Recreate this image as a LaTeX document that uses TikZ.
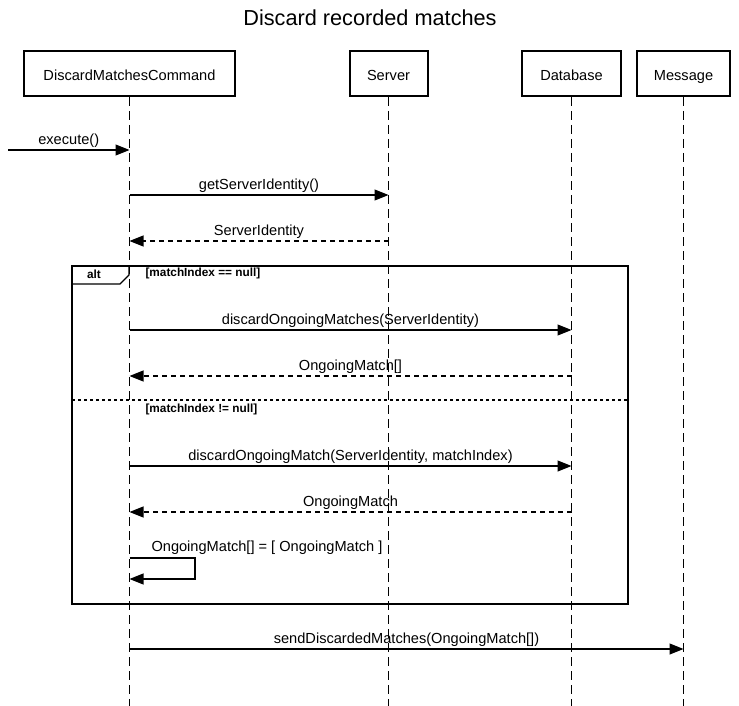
\documentclass[tikz,border=0pt]{standalone}
\usepackage{fontspec}
\setmainfont{Liberation Sans}
\usetikzlibrary{arrows.meta}
\begin{document}
\begin{tikzpicture}[x=1pt,y=-1pt,
    every node/.style={font=\fontsize{14.6}{17}\selectfont},
    head/.style={draw,line width=2pt,minimum height=45pt,inner sep=0pt,text height=16.5pt,text depth=3pt},
    life/.style={line width=1.2pt,dash pattern=on 9pt off 5pt},
    msg/.style={line width=1.1pt,-{Triangle[length=14pt,width=11pt]}},
    ret/.style={msg,dash pattern=on 5pt off 4pt},
    guard/.style={font=\fontsize{11.8}{13}\selectfont\bfseries,anchor=west}]
                \useasboundingbox (0,0) rectangle (739,706);
                \node[font=\fontsize{21.7}{25}\selectfont] (title) at (370,18) {Discard recorded matches};
                \node[head,minimum width=211pt] (cmd) at (129.5,73.5) {DiscardMatchesCommand};
                \node[head,minimum width=78pt] (srv) at (388.5,73.5) {Server};
                \node[head,minimum width=99pt] (db) at (571.5,73.5) {Database};
                \node[head,minimum width=93pt] (msgbox) at (683.5,73.5) {Message};
                \draw[life] (cmd.south) -- (cmd |- 0,706);
                \draw[life] (srv.south) -- (srv |- 0,706);
                \draw[life] (db.south) -- (db |- 0,706);
                \draw[life] (msgbox.south) -- (msgbox |- 0,706);
                \coordinate (in) at (8,150);
                \draw[msg] (in) -- (cmd |- in) node[midway,above=-1pt] {execute()};
                \draw[msg] (cmd |- 0,195) -- (srv |- 0,195) node[midway,above=-1pt] {getServerIdentity()};
                \draw[ret] (srv |- 0,241) -- (cmd |- 0,241) node[midway,above=-1pt] {ServerIdentity};
                % alt fragment
                \draw[line width=2pt] (72,266) rectangle (628,604);
                \draw[line width=1.4pt] (72,284) -- (120,284) -- (129,275) -- (129,266);
                \node[guard,anchor=center] (alt) at (94,274.5) {alt};
                \node[guard] (g1) at (142,273.5) {[matchIndex == null]};
                \draw[msg] (cmd |- 0,330) -- (db |- 0,330) node[midway,above=-1pt] {discardOngoingMatches(ServerIdentity)};
                \draw[ret] (db |- 0,376) -- (cmd |- 0,376) node[midway,above=-1pt] {OngoingMatch[]};
                \draw[line width=1.4pt,dash pattern=on 3pt off 3pt] (72,400) -- (628,400);
                \node[guard] (g2) at (142,409.5) {[matchIndex != null]};
                \draw[msg] (cmd |- 0,466) -- (db |- 0,466) node[midway,above=-1pt] {discardOngoingMatch(ServerIdentity, matchIndex)};
                \draw[ret] (db |- 0,512) -- (cmd |- 0,512) node[midway,above=-1pt] {OngoingMatch};
                \draw[msg] (cmd |- 0,558) -- (195,558) -- (195,579) -- (cmd |- 0,579);
                \node[anchor=west] (self) at (148,548) {OngoingMatch[] = [ OngoingMatch ]};
                \draw[msg] (cmd |- 0,649) -- (msgbox |- 0,649) node[midway,above=-1pt] {sendDiscardedMatches(OngoingMatch[])};
            \end{tikzpicture}
\end{document}
